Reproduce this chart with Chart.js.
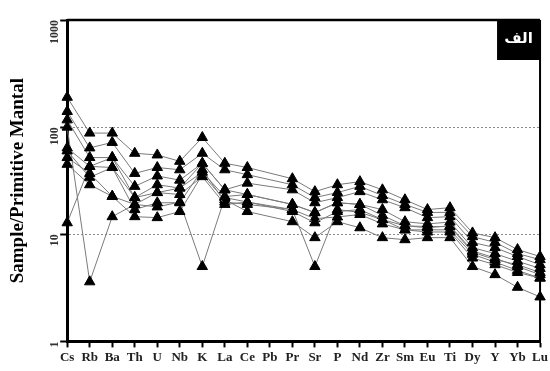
<!DOCTYPE html>
<html>
<head>
<meta charset="utf-8">
<script src="https://cdn.jsdelivr.net/npm/chart.js@4/dist/chart.umd.min.js"></script>
<style>
  html, body { margin: 0; padding: 0; background: #fff; }
  #wrap { width: 550px; height: 371px; }
</style>
</head>
<body>
<div id="wrap"><canvas id="grafico"></canvas></div>
<script>
const ELEMENTOS = ['Cs', 'Rb', 'Ba', 'Th', 'U', 'Nb', 'K', 'La', 'Ce', 'Pb', 'Pr', 'Sr', 'P', 'Nd', 'Zr', 'Sm', 'Eu', 'Ti', 'Dy', 'Y', 'Yb', 'Lu'];
const TICKS_Y = [1, 10, 100, 1000];

// amostras normalizadas ao manto primitivo (Pb sem dado)
const amostra1 = [190, 88, 88, 57, 55, 48, 80, 46, 42, null, 33, 25, 29, 31, 26, 21, 17, 17.7, 10.3, 9.3, 7.2, 6.2];
const amostra2 = [140, 64, 72, 37, 42, 40, 57, 40, 36, null, 29, 22, 24.5, 28, 23, 19, 16, 16, 9.5, 8.4, 6.6, 5.8];
const amostra3 = [117, 52, 52, 28, 35, 32, 46, 26, 30, null, 26, 19.7, 22, 25, 21, 17.7, 14.3, 14.6, 8.4, 7.5, 6.2, 5.2];
const amostra4 = [64, 43, 42, 22, 29, 27, 38, 22.5, 23.5, null, 19, 15.9, 19.7, 19, 17, 13.1, 12.5, 13, 7.5, 6.6, 5.6, 4.8];
const amostra5 = [52, 37, 22.6, 19, 24.5, 23.5, 34.5, 19, 20, null, 16.3, 12.8, 16.3, 17, 13.7, 12, 11.8, 11.8, 6.8, 5.8, 5.2, 4.4];
const amostra6 = [60, 34, 42, 17, 19.7, 19.7, 40, 20, 19, null, 17, 14, 14.5, 15.3, 12.5, 11, 10.5, 10.5, 6.0, 5.2, 4.4, 3.9];
const amostra7 = [45, 29, 22.6, 14.6, 14.3, 16.3, 36, 21, 16.3, null, 13.1, 9.3, 13.1, 11.5, 9.3, 8.9, 9.3, 9.3, 5.0, 4.2, 3.2, 2.6];
const amostra8 = [12.8, 43, 52, 22, 24.5, 27, 46, 26, 23.5, null, 19, 16, 19.7, 19, 15, 12, 11.5, 12, 7.0, 6.0, 5.0, 4.2];
const amostra9 = [100, 3.6, 14.6, 19, 18, 20, 5.0, 22, 20, null, 17, 5.0, 17, 16, 13.7, 11, 11, 11, 6.5, 5.5, 4.6, 3.9];

const AMOSTRAS = [amostra1, amostra2, amostra3, amostra4, amostra5, amostra6, amostra7, amostra8, amostra9];

const FONTE_SERIF = '"Liberation Serif", "Times New Roman", serif';

const molduraPlugin = {
    id: 'moldura',
    afterDatasetsDraw(chart) {
        const { ctx, chartArea } = chart;
        const { left, right, top } = chartArea;
        ctx.save();
        ctx.strokeStyle = '#000';
        ctx.lineWidth = 2.5;
        ctx.beginPath();
        ctx.moveTo(left, top);
        ctx.lineTo(right, top);
        ctx.stroke();
        ctx.lineWidth = 2;
        ctx.beginPath();
        ctx.moveTo(right, top);
        ctx.lineTo(right, chartArea.bottom);
        ctx.stroke();

        // rótulo do painel
        ctx.fillStyle = '#000';
        ctx.fillRect(right - 43, top, 43, 40);
        ctx.fillStyle = '#fff';
        ctx.font = 'bold 15px "Noto Sans", "DejaVu Sans", sans-serif';
        ctx.textAlign = 'center';
        ctx.textBaseline = 'middle';
        ctx.fillText('الف', right - 21.5, top + 19);
        ctx.restore();
    },
};

new Chart(document.getElementById('grafico'), {
    type: 'line',
    data: {
        labels: ELEMENTOS,
        datasets: AMOSTRAS.map((valores, i) => ({
            label: 'Amostra ' + (i + 1),
            data: valores,
            borderColor: '#7a7a7a',
            borderWidth: 1,
            pointStyle: 'triangle',
            pointRadius: 6,
            pointBackgroundColor: '#000',
            pointBorderColor: '#000',
            pointBorderWidth: 1,
            spanGaps: true,
            tension: 0,
        })),
    },
    plugins: [molduraPlugin],
    options: {
        responsive: true,
        maintainAspectRatio: false,
        animation: false,
        layout: { padding: { top: 20, left: 7, right: -3, bottom: 4 } },
        plugins: {
            legend: { display: false },
            tooltip: { enabled: false },
        },
        scales: {
            x: {
                type: 'category',
                offset: false,
                grid: {
                    drawOnChartArea: false,
                    tickLength: 6,
                    tickColor: '#000',
                    tickWidth: 2,
                },
                border: { color: '#000', width: 3 },
                ticks: {
                    color: '#222',
                    autoSkip: false,
                    maxRotation: 0,
                    padding: 2,
                    font: { family: FONTE_SERIF, size: 13, weight: 'bold' },
                },
            },
            y: {
                type: 'logarithmic',
                min: 1,
                max: 1000,
                afterBuildTicks: (eixo) => {
                    eixo.ticks = TICKS_Y.map((v) => ({ value: v }));
                },
                grid: {
                    color: (c) => (c.tick && (c.tick.value === 10 || c.tick.value === 100)) ? '#8a8a8a' : 'rgba(0,0,0,0)',
                    lineWidth: 1,
                    tickLength: 7,
                    tickColor: '#000',
                    tickWidth: 2,
                },
                border: { color: '#000', width: 3, dash: [2, 2] },
                ticks: {
                    color: '#333',
                    minRotation: 90,
                    maxRotation: 90,
                    padding: 5,
                    font: { family: FONTE_SERIF, size: 12, weight: 'bold' },
                    callback: (valor) => String(valor),
                },
                title: {
                    display: true,
                    text: 'Sample/Primitive Mantal',
                    color: '#000',
                    padding: { top: 0, bottom: 6 },
                    font: { family: FONTE_SERIF, size: 19, weight: 'bold' },
                },
            },
        },
    },
});
</script>
</body>
</html>
